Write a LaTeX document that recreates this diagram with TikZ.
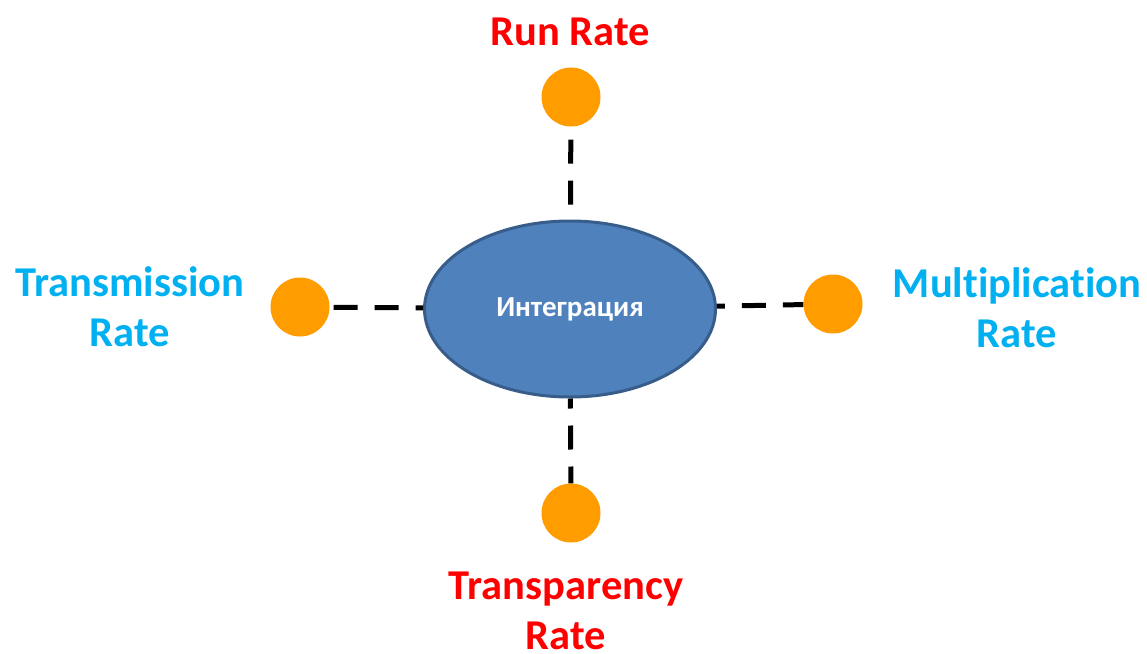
\documentclass[tikz,border=0pt]{standalone}
\usepackage{fontspec}
\setmainfont{Carlito}[Ligatures=CommonOff]
\usetikzlibrary{shapes.geometric}
\definecolor{hubblue}{HTML}{4F81BD}
\definecolor{hubedge}{HTML}{385D8A}
\definecolor{dotorange}{HTML}{FF9C00}
\definecolor{ratered}{HTML}{FF0000}
\definecolor{ratecyan}{HTML}{00B0F0}
\begin{document}
\begin{tikzpicture}[x=1pt,y=-1pt,
  hub/.style={ellipse,draw=hubedge,line width=3pt,fill=hubblue,minimum width=291pt,minimum height=176pt,inner sep=0pt,text=white,font=\bfseries\fontsize{29}{34}\selectfont},
  dot/.style={circle,fill=dotorange,minimum size=59pt,inner sep=0pt},
  link/.style={line width=5pt,dash pattern=on 24pt off 17pt},
  redlabel/.style={text=ratered,align=center,font=\bfseries\fontsize{42.5}{50}\selectfont},
  cyanlabel/.style={text=ratecyan,align=center,font=\bfseries\fontsize{42.5}{50}\selectfont}]
\useasboundingbox (0,0) rectangle (1147,653);
\node[hub] (hub) at (570,309) {Интеграция};
\node[dot] (run) at (571,97) {};
\node[dot] (trans) at (300,307) {};
\node[dot] (mult) at (833,304) {};
\node[dot] (transp) at (571,513) {};
\draw[link,dash phase=28pt] (run) -- (hub);
\draw[link,dash phase=37pt] (trans) -- (hub);
\draw[link,dash phase=16pt] (hub) -- (mult);
\draw[link,dash phase=14pt] (hub) -- (transp);
\node[redlabel,anchor=base] (runlbl) at (570,45) {Run Rate};
\node[cyanlabel] (translbl) at (130,307) {Transmission\\Rate};
\node[cyanlabel] (multlbl) at (1017,308) {Multiplication\\Rate};
\node[redlabel] (transplbl) at (566,611) {Transparency\\Rate};
\end{tikzpicture}
\end{document}
